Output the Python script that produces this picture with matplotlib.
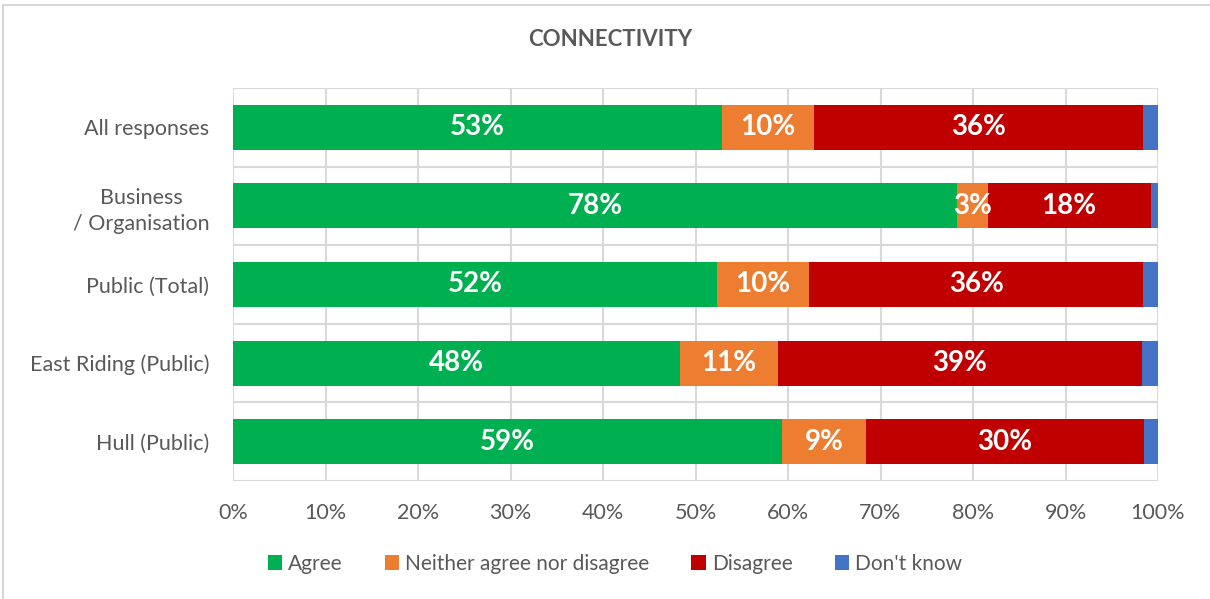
import numpy as np
import matplotlib.pyplot as plt
from matplotlib.patches import Rectangle, Patch

# Survey groups (top to bottom) and the share of each response, in percent
groups = ['All responses', 'Business\n/ Organisation', 'Public (Total)',
          'East Riding (Public)', 'Hull (Public)']
agree = [52.9, 78.3, 52.3, 48.3, 59.4]
neither = [9.9, 3.3, 10.0, 10.6, 9.0]
disagree = [35.6, 17.6, 36.1, 39.4, 30.1]
dont_know = [1.6, 0.8, 1.6, 1.7, 1.5]

series_names = ['Agree', 'Neither agree nor disagree', 'Disagree', "Don't know"]
colors = ['#00b050', '#ed7d31', '#c00000', '#4472c4']
labelled = [True, True, True, False]

text_grey = '#595959'
grid_grey = '#d9d9d9'
plt.rcParams['font.family'] = ['Lato', 'DejaVu Sans']

fig = plt.figure(figsize=(12.1, 5.99), dpi=100)
ax = fig.add_axes([233 / 1210, 1 - 481 / 599, 925 / 1210, 393 / 599])

# outer chart border
fig.patches.append(Rectangle((3 / 1210, -0.01), 1.0, 1 - 5 / 599 + 0.01,
                             transform=fig.transFigure, fill=False,
                             edgecolor='#d0d0d0', linewidth=1.2))

y = np.arange(len(groups))
left = np.zeros(len(groups))
for vals, name, col, show in zip([agree, neither, disagree, dont_know],
                                 series_names, colors, labelled):
    vals = np.array(vals)
    bars = ax.barh(y, vals, left=left, height=0.57, color=col, label=name, zorder=3)
    if show:
        for b, v in zip(bars, vals):
            ax.text(b.get_x() + b.get_width() / 2, b.get_y() + b.get_height() / 2,
                    f'{v:.0f}%', ha='center', va='center', color='white',
                    fontsize=20, fontweight='bold', zorder=4)
    left += vals

ax.set_xlim(0, 100)
ax.set_ylim(len(groups) - 0.5, -0.5)
ax.set_xticks(np.arange(0, 101, 10))
ax.set_xticklabels([f'{t}%' for t in range(0, 101, 10)])
ax.set_yticks(y)
ax.set_yticklabels(groups, multialignment='center', linespacing=1.4)
ax.set_yticks(np.arange(-0.5, len(groups), 1), minor=True)

ax.grid(axis='x', which='major', color=grid_grey, linewidth=1.5, zorder=0)
ax.grid(axis='y', which='minor', color=grid_grey, linewidth=1.5, zorder=0)
ax.tick_params(axis='both', which='both', length=0, labelsize=15.5, colors=text_grey)
ax.tick_params(axis='x', pad=16)
ax.tick_params(axis='y', pad=17)
for s in ax.spines.values():
    s.set_visible(False)

fig.text(610 / 1210, 1 - 40 / 599, 'CONNECTIVITY', ha='center', va='center',
         fontsize=16, fontweight='bold', color=text_grey)

handles = [Patch(facecolor=c, label=n) for c, n in zip(colors, series_names)]
fig.legend(handles=handles, loc='center', bbox_to_anchor=(615 / 1210, 1 - 564 / 599),
           ncol=4, frameon=False, fontsize=15, labelcolor=text_grey,
           handlelength=0.7, handleheight=0.7, handletextpad=0.3, columnspacing=2.0)

fig.savefig('out.png', dpi=100)
